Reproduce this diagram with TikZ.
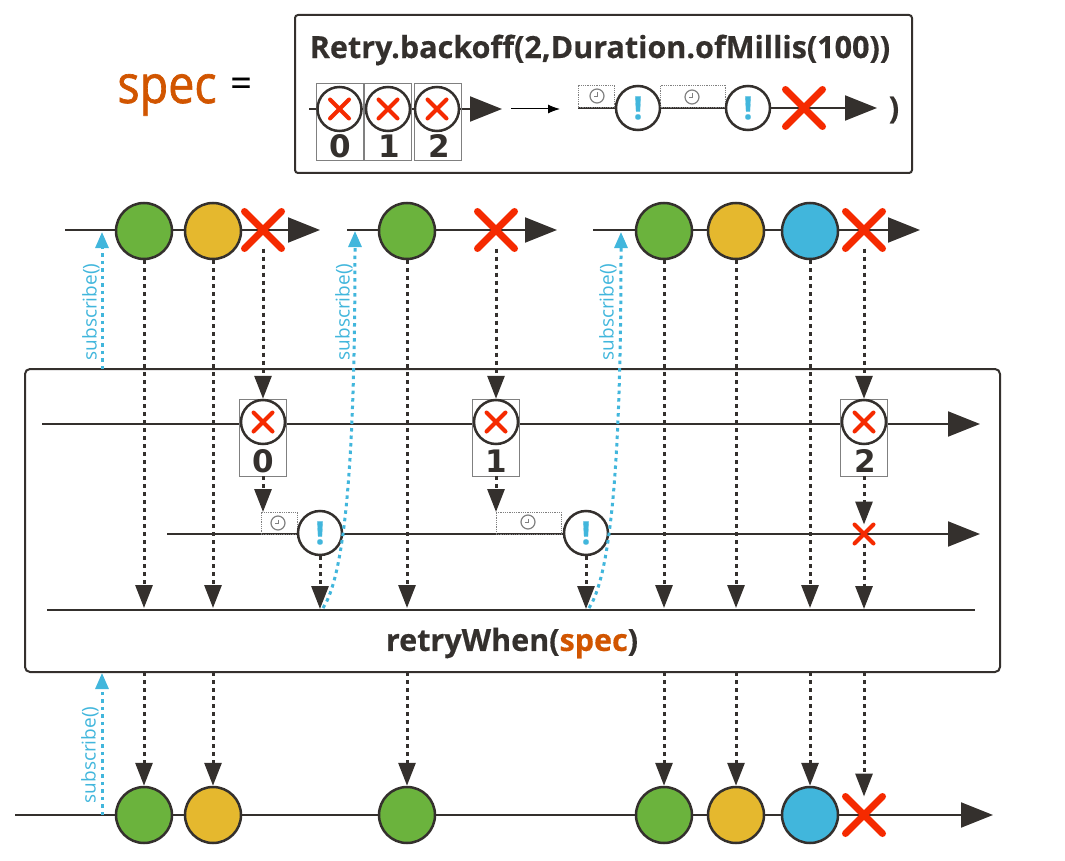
\documentclass[tikz,border=0pt]{standalone}
\usepackage{fontspec}
\setmainfont{Open Sans}
\newfontfamily\heavyfont[BoldFeatures={FakeBold=0.5},UprightFeatures={FakeBold=0.25}]{Open Sans}
\newfontfamily\specfont[FakeStretch=0.88,FakeBold=1.2]{Open Sans}
\newfontfamily\digitfont{DejaVu Sans}
\usetikzlibrary{arrows.meta}
\usetikzlibrary{shapes.misc}
\definecolor{inkdark}{HTML}{34302D}
\definecolor{marblegreen}{HTML}{6BB33D}
\definecolor{marbleyellow}{HTML}{E5B82E}
\definecolor{marbleblue}{HTML}{41B6DC}
\definecolor{errred}{HTML}{F52A00}
\definecolor{specorange}{HTML}{D15500}
\tikzset{
  timeline/.style={draw=inkdark,line width=2,-{Triangle[length=32pt,width=25pt]}},
  plainline/.style={draw=inkdark,line width=2},
  marble/.style={circle,draw=inkdark,line width=2.5,minimum size=56pt,inner sep=0},
  signal/.style={circle,draw=inkdark,fill=white,line width=2.5,minimum size=44pt,inner sep=0,
    font=\fontsize{32}{32}\selectfont\heavyfont\bfseries,text=marbleblue},
  bigx/.style={cross out,draw=errred,line width=7,line cap=round,minimum size=37pt,inner sep=0,outer sep=0},
  smallx/.style={cross out,draw=errred,line width=4,line cap=round,minimum size=19pt,inner sep=0,outer sep=0},
  countbox/.style={draw=gray,line width=0.8,minimum width=47pt,minimum height=77pt,inner sep=0},
  countnum/.style={font=\fontsize{31}{31}\selectfont\digitfont\bfseries,text=inkdark,inner sep=0},
  waitbox/.style={draw=gray,line width=0.8,densely dotted,minimum height=22pt,inner sep=0},
  clockface/.style={circle,draw=gray,line width=1.2,minimum size=14pt,inner sep=0},
  emit/.style={draw=inkdark,line width=3,dash pattern=on 4pt off 4pt,-{Triangle[length=23pt,width=17pt]}},
  resub/.style={draw=marbleblue,line width=3,dash pattern=on 3.5pt off 4pt,-{Triangle[length=16pt,width=13pt]}},
  sublabel/.style={rotate=90,text=marbleblue,font=\fontsize{19}{19}\selectfont,inner sep=0},
  titletext/.style={text=inkdark,font=\fontsize{30.5}{30.5}\selectfont\heavyfont\bfseries,inner sep=0},
}
\newcommand{\clockhands}[1]{\draw[gray,line width=0.9] (#1.center) ++(0,-3.5) -- ++(0,3.5) -- ++(-3,0);}
\begin{document}
\begin{tikzpicture}[x=1pt,y=-1pt]
    \useasboundingbox (0,0) rectangle (1065,861);
    % spec header
    \node[text=specorange,font=\fontsize{53}{53}\selectfont\specfont,inner sep=0,anchor=base] (spec) at (167,103) {spec};
    \node[text=black,font=\fontsize{38}{38}\selectfont\heavyfont,inner sep=0] (equal) at (241,87) {=};
    \node[draw=inkdark,line width=2,rounded corners=3pt,minimum width=617pt,minimum height=158pt,inner sep=0] (specbox) at (603.5,94) {};
    \node[titletext] (backofftitle) at (600,50) {Retry.backoff(2,Duration.ofMillis(100))};
    % coordinates for the lines
    \coordinate (h1s) at (309,109);
    \coordinate (h1e) at (502,109);
    \coordinate (h2s) at (511,109);
    \coordinate (h2e) at (560,109);
    \coordinate (h3s) at (578,108);
    \coordinate (h3e) at (877,108);
    \coordinate (a1s) at (65,230);
    \coordinate (a1e) at (320,230);
    \coordinate (a2s) at (347,230);
    \coordinate (a2e) at (557,230);
    \coordinate (a3s) at (593,230);
    \coordinate (a3e) at (920,230);
    \coordinate (m1s) at (42,424);
    \coordinate (m1e) at (980,424);
    \coordinate (m2s) at (167,534);
    \coordinate (m2e) at (980,534);
    \coordinate (m3s) at (47,610);
    \coordinate (m3e) at (975,610);
    \coordinate (b1s) at (15,815);
    \coordinate (b1e) at (993,815);
    \draw[timeline] (h1s) -- (h1e);
    \draw[-{Latex[length=12pt,width=9pt]},line width=1,black] (h2s) -- (h2e);
    \draw[timeline] (h3s) -- (h3e);
    \draw[timeline] (a1s) -- (a1e);
    \draw[timeline] (a2s) -- (a2e);
    \draw[timeline] (a3s) -- (a3e);
    \draw[timeline] (m1s) -- (m1e);
    \draw[timeline] (m2s) -- (m2e);
    \draw[plainline] (m3s) -- (m3e);
    \draw[timeline] (b1s) -- (b1e);
    % spec marbles
    \node[countbox] (hb0) at (339.5,122) {};
    \node[countbox] (hb1) at (388,122) {};
    \node[countbox] (hb2) at (437.5,122) {};
    \node[signal] (hc0) at (339.5,109) {};
    \node[signal] (hc1) at (388,109) {};
    \node[signal] (hc2) at (437,109) {};
    \node[smallx] (hx0) at (339.5,109) {};
    \node[smallx] (hx1) at (388,109) {};
    \node[smallx] (hx2) at (437,109) {};
    \node[countnum] (hn0) at (340,146) {0};
    \node[countnum] (hn1) at (389,146) {1};
    \node[countnum] (hn2) at (439,146) {2};
    \node[waitbox,minimum width=36pt] (hw1) at (596,96) {};
    \node[clockface] (hk1) at (597,96) {};
    \clockhands{hk1}
    \node[signal] (hs1) at (638,108) {!};
    \node[waitbox,minimum width=65pt] (hw2) at (693,96) {};
    \node[clockface] (hk2) at (692,97) {};
    \clockhands{hk2}
    \node[signal] (hs2) at (748,108) {!};
    \node[bigx] (hx) at (804,108) {};
    \node[titletext] (hclose) at (894,110) {)};
    % source marbles
    \node[marble,fill=marblegreen] (a1) at (144,231) {};
    \node[marble,fill=marbleyellow] (a2) at (213,231) {};
    \node[bigx] (ax1) at (263,230) {};
    \node[marble,fill=marblegreen] (a3) at (407,231) {};
    \node[bigx] (ax2) at (496,230) {};
    \node[marble,fill=marblegreen] (a4) at (664,231) {};
    \node[marble,fill=marbleyellow] (a5) at (736,231) {};
    \node[marble,fill=marbleblue] (a6) at (810,231) {};
    \node[bigx] (ax3) at (864,230) {};
    % operator
    \node[draw=inkdark,line width=2,rounded corners=5pt,minimum width=975pt,minimum height=303pt,inner sep=0] (retrybox) at (512.5,520.5) {};
    \node[titletext] (retrylabel) at (512,643) {retryWhen(\textcolor{specorange}{spec})};
    \node[countbox] (mb0) at (263,437.5) {};
    \node[countbox] (mb1) at (496,437.5) {};
    \node[countbox] (mb2) at (864,437.5) {};
    \node[signal] (mc0) at (263,422) {};
    \node[signal] (mc1) at (496,422) {};
    \node[signal] (mc2) at (864,422) {};
    \node[smallx] (mx0) at (263,422) {};
    \node[smallx] (mx1) at (496,422) {};
    \node[smallx] (mx2) at (864,422) {};
    \node[countnum] (mn0) at (263,461) {0};
    \node[countnum] (mn1) at (496,461) {1};
    \node[countnum] (mn2) at (865,461) {2};
    \node[waitbox,minimum width=36pt] (mw1) at (279,523) {};
    \node[clockface] (mk1) at (278,523) {};
    \clockhands{mk1}
    \node[signal] (ms1) at (320,533) {!};
    \node[waitbox,minimum width=65pt] (mw2) at (528.5,523) {};
    \node[clockface] (mk2) at (528,522) {};
    \clockhands{mk2}
    \node[signal] (ms2) at (586,533) {!};
    \node[smallx] (mx3) at (864,534) {};
    % output marbles
    \node[marble,fill=marblegreen] (b1) at (144,815) {};
    \node[marble,fill=marbleyellow] (b2) at (213,815) {};
    \node[marble,fill=marblegreen] (b3) at (407,815) {};
    \node[marble,fill=marblegreen] (b4) at (664,815) {};
    \node[marble,fill=marbleyellow] (b5) at (736,815) {};
    \node[marble,fill=marbleblue] (b6) at (810,815) {};
    \node[bigx] (bx) at (864,815) {};
    % tips on the last line of the operator
    \coordinate (t1) at (144,608);
    \coordinate (t2) at (213,608);
    \coordinate (t3) at (320,609);
    \coordinate (t4) at (407,608);
    \coordinate (t5) at (586,609);
    \coordinate (t6) at (664,608);
    \coordinate (t7) at (736,608);
    \coordinate (t8) at (810,608);
    \coordinate (t9) at (864,609);
    \coordinate (w1) at (263,512);
    \coordinate (w2) at (496,512);
    \draw[emit] (a1) -- (t1);
    \draw[emit] (a2) -- (t2);
    \draw[emit] (ax1) -- (mc0);
    \draw[emit] (mb0) -- (w1);
    \draw[emit] (ms1) -- (t3);
    \draw[emit] (a3) -- (t4);
    \draw[emit] (ax2) -- (mc1);
    \draw[emit] (mb1) -- (w2);
    \draw[emit] (ms2) -- (t5);
    \draw[emit] (a4) -- (t6);
    \draw[emit] (a5) -- (t7);
    \draw[emit] (a6) -- (t8);
    \draw[emit] (ax3) -- (mc2);
    \draw[emit] (mb2) -- (mx3);
    \draw[emit] (mx3) -- (t9);
    % from the operator to the output
    \coordinate (o1) at (144,672);
    \coordinate (o2) at (213,672);
    \coordinate (o3) at (407,672);
    \coordinate (o4) at (664,672);
    \coordinate (o5) at (736,672);
    \coordinate (o6) at (810,672);
    \coordinate (o7) at (864,672);
    \draw[emit] (o1) -- (b1);
    \draw[emit] (o2) -- (b2);
    \draw[emit] (o3) -- (b3);
    \draw[emit] (o4) -- (b4);
    \draw[emit] (o5) -- (b5);
    \draw[emit] (o6) -- (b6);
    \draw[emit] (o7) -- (bx);
    % subscribe arrows
    \coordinate (s1) at (102,369);
    \coordinate (s1e) at (102,232);
    \coordinate (s2) at (323,608);
    \coordinate (s2e) at (355,231);
    \coordinate (s3) at (589,608);
    \coordinate (s3e) at (621,232);
    \coordinate (s4) at (102,815);
    \coordinate (s4e) at (102,673);
    \draw[resub] (s1) -- (s1e);
    \draw[resub] (s2) .. controls (348,570) and (355,430) .. (s2e);
    \draw[resub] (s3) .. controls (614,570) and (621,430) .. (s3e);
    \draw[resub] (s4) -- (s4e);
    \node[sublabel] (l1) at (91,312) {subscribe()};
    \node[sublabel] (l2) at (344,312) {subscribe()};
    \node[sublabel] (l3) at (608,312) {subscribe()};
    \node[sublabel] (l4) at (90,755) {subscribe()};
  \end{tikzpicture}
\end{document}
